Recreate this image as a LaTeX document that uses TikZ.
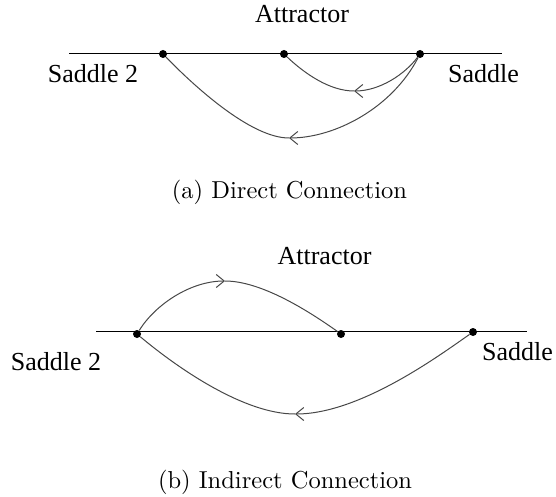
\documentclass[tikz,border=0pt]{standalone}
\usepackage{fontspec}
\newfontfamily\labelfont{Liberation Serif}
\newfontfamily\capfont{lmroman10-regular}[Extension=.otf]
\usetikzlibrary{arrows.meta}
\tikzset{
  axis/.style={line width=0.9pt, black},
  orbit/.style={line width=1pt, black!72},
  flowtip/.style={orbit, -{Straight Barb[length=8pt,width=13pt]}},
  fixedpt/.style={circle, fill=black, inner sep=0pt, minimum size=8pt},
  ptlabel/.style={font=\labelfont\fontsize{26}{30}\selectfont, inner sep=0pt, anchor=base},
  caption/.style={font=\capfont\fontsize{24.5}{29}\selectfont, inner sep=0pt, anchor=base},
}
\begin{document}
\begin{tikzpicture}[x=1pt,y=-1pt]
\useasboundingbox (0,0) rectangle (556,497);

% ---------- (a) direct connection ----------
\coordinate (aL) at (69,53);
\coordinate (aR) at (502,53);
\draw[axis] (aL) -- (aR);
\node[fixedpt] (s2a) at (163,54) {};
\node[fixedpt] (atta) at (284,54) {};
\node[fixedpt] (sa) at (420,54) {};

\node[ptlabel] (tatta) at (302,23) {Attractor};
\node[ptlabel] (ts2a) at (93,83) {Saddle 2};
\node[ptlabel] (tsa) at (483.5,83) {Saddle};

% saddle -> attractor
\coordinate (ma) at (354,91);
\draw[flowtip] (sa) .. controls (405,74) and (380,91) .. (ma);
\draw[orbit] (ma) .. controls (330,91) and (305,74) .. (atta);
% saddle -> saddle 2
\coordinate (na) at (289,138);
\draw[flowtip] (sa) .. controls (392,108) and (335,138) .. (na);
\draw[orbit] (na) .. controls (250,138) and (192,84) .. (s2a);

\node[caption] (capa) at (289.5,198) {(a) Direct Connection};

% ---------- (b) indirect connection ----------
\coordinate (bL) at (96,331);
\coordinate (bR) at (527,331);
\draw[axis] (bL) -- (bR);
\node[fixedpt] (s2b) at (137,334) {};
\node[fixedpt] (attb) at (341,334) {};
\node[fixedpt] (sb) at (473,332) {};

\node[ptlabel] (tattb) at (324.5,264) {Attractor};
\node[ptlabel] (ts2b) at (56,370) {Saddle 2};
\node[ptlabel] (tsb) at (517.5,360) {Saddle};

% saddle 2 -> attractor (above the line)
\coordinate (mb) at (225,281);
\draw[flowtip] (s2b) .. controls (155,305) and (190,281) .. (mb);
\draw[orbit] (mb) .. controls (262,281) and (310,312) .. (attb);
% saddle -> saddle 2 (below the line)
\coordinate (nb) at (295,414);
\draw[flowtip] (sb) .. controls (440,355) and (360,414) .. (nb);
\draw[orbit] (nb) .. controls (245,414) and (180,370) .. (s2b);

\node[caption] (capb) at (285,488) {(b) Indirect Connection};
\end{tikzpicture}
\end{document}
